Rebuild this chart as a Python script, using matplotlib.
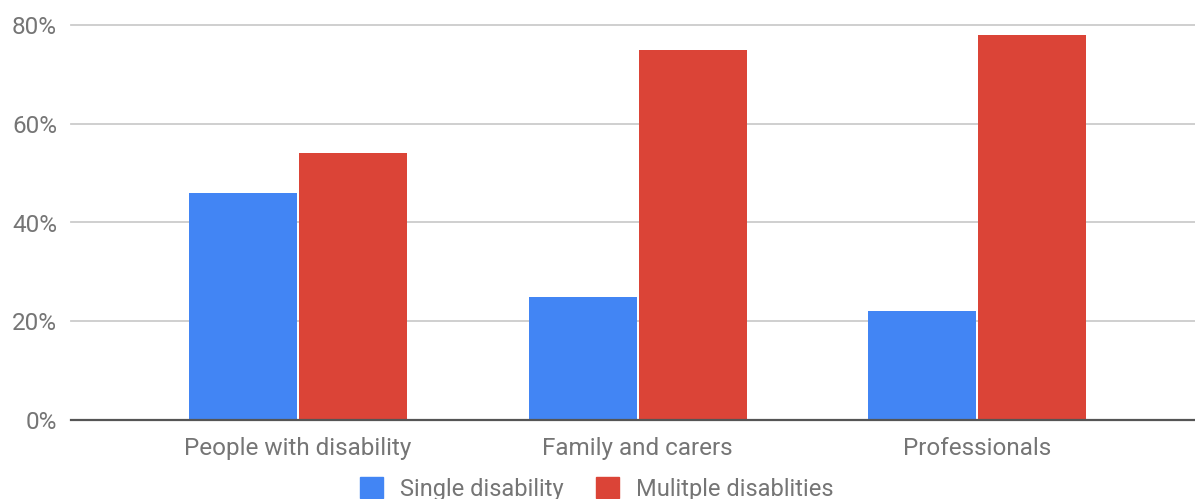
import matplotlib
matplotlib.use("Agg")
import matplotlib.pyplot as plt
from matplotlib.patches import Patch
import numpy as np

plt.rcParams['font.family'] = ['Roboto', 'DejaVu Sans']

# survey answers, share of respondents per group
groups = ['People with disability', 'Family and carers', 'Professionals']
single = [46, 25, 22]
multiple = [54, 75, 78]
series_names = ['Single disability', 'Mulitple disablities']

blue = '#4285F4'
red = '#DB4437'
grey_text = '#757575'

W, H = 1195, 499
fig = plt.figure(figsize=(W / 100, H / 100), dpi=100)
ax = fig.add_axes([71 / W, (H - 420) / H, (W - 71) / W, 395 / H])

x = np.arange(len(groups))
bw = 0.318
ax.bar(x - 0.162, single, width=bw, color=blue, zorder=3)
ax.bar(x + 0.162, multiple, width=bw, color=red, zorder=3)

ax.set_xlim(-0.669, 2.642)
ax.set_ylim(0, 80)
ax.set_yticks([0, 20, 40, 60, 80])
ax.set_yticklabels(['0%', '20%', '40%', '60%', '80%'])
for y in [20, 40, 60, 80]:
    ax.axhline(y, color='#cccccc', lw=1.3, zorder=1, clip_on=False)
ax.axhline(0, color='#555555', lw=1.6, zorder=4, clip_on=False)

for s in ax.spines.values():
    s.set_visible(False)
ax.set_xticks(x)
ax.set_xticklabels(groups)
ax.tick_params(length=0, labelsize=17.5, labelcolor=grey_text)
ax.tick_params(axis='y', pad=10)
ax.tick_params(axis='x', pad=12)

handles = [Patch(color=blue), Patch(color=red)]
fig.legend(handles, series_names, loc='center', bbox_to_anchor=(597 / W, 1 - 489 / H),
           ncol=2, frameon=False, fontsize=17, labelcolor=grey_text,
           handlelength=0.97, handleheight=0.97, handletextpad=0.72, columnspacing=1.36)

fig.savefig('out.png', dpi=100)
